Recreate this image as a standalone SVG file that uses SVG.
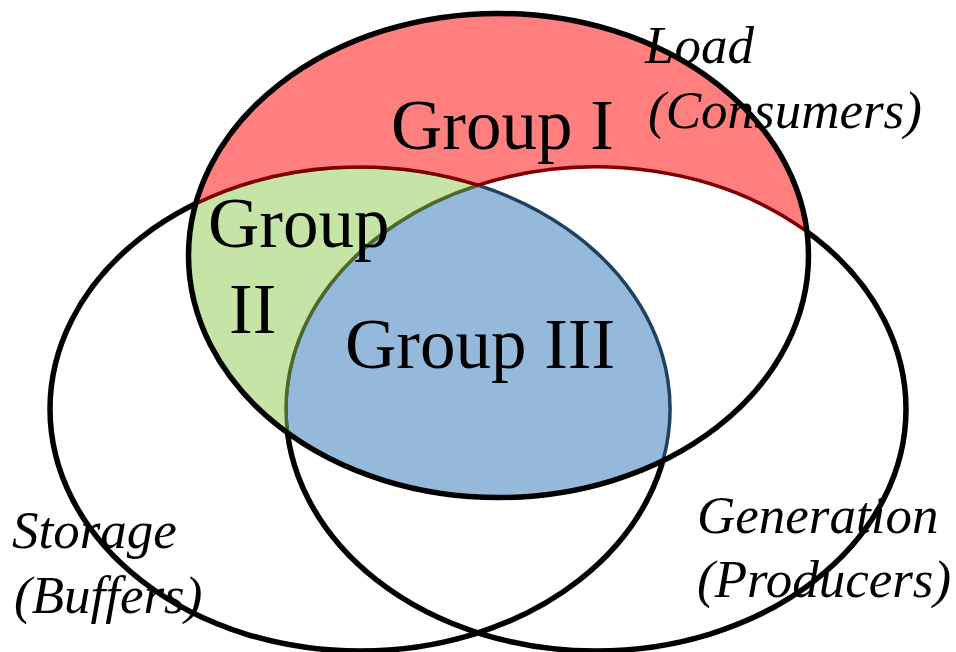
<svg xmlns="http://www.w3.org/2000/svg" width="956" height="652" viewBox="0 0 956 652">
<style>
.outline{fill:none;stroke:#000;stroke-width:5.5}
.grp{font-family:"Liberation Serif","Times New Roman",serif;font-size:71px;fill:#000}
.lbl{font-family:"Liberation Serif","Times New Roman",serif;font-size:53px;font-style:italic;fill:#000}
</style>
<rect width="956" height="652" fill="#fff"/>
<g id="storage">
<ellipse class="outline" cx="360" cy="409" rx="310" ry="242"/>
</g>
<g id="generation">
<ellipse class="outline" cx="596" cy="409" rx="310" ry="242"/>
</g>
<ellipse id="load-bg" cx="498.5" cy="255.5" rx="310" ry="242" fill="#fff"/>
<g id="group3">
<path d="M478 185.2 A310 242 0 0 1 662.9 460.7 A310 242 0 0 1 287.5 432.8 A310 242 0 0 1 478 185.2 Z" fill="#95B9DB" stroke="#1F4060" stroke-width="3.5"/>
</g>
<g id="group2">
<path d="M195.6 203.8 A310 242 0 0 1 478 185.2 A310 242 0 0 0 287.5 432.8 A310 242 0 0 1 195.6 203.8 Z" fill="#C7E4A7" stroke="#4F6A28" stroke-width="3.5"/>
</g>
<g id="group1">
<path d="M195.6 203.8 A310 242 0 0 1 807 231.7 A310 242 0 0 0 478 185.2 A310 242 0 0 0 195.6 203.8 Z" fill="#FF7F7F" stroke="#7F0000" stroke-width="3.5"/>
</g>
<g id="load">
<ellipse class="outline" cx="498.5" cy="255.5" rx="310" ry="242"/>
</g>
<g id="labels">
<text class="grp" x="391" y="149">Group I</text>
<text class="grp" x="208" y="247">Group</text>
<text class="grp" x="229" y="333">II</text>
<text class="grp" x="345" y="368">Group III</text>
<text class="lbl" x="645" y="63">Load</text>
<text class="lbl" x="648" y="128">(Consumers)</text>
<text class="lbl" x="12" y="548">Storage</text>
<text class="lbl" x="14" y="613">(Buffers)</text>
<text class="lbl" x="697" y="533">Generation</text>
<text class="lbl" x="697" y="597">(Producers)</text>
</g>
</svg>
